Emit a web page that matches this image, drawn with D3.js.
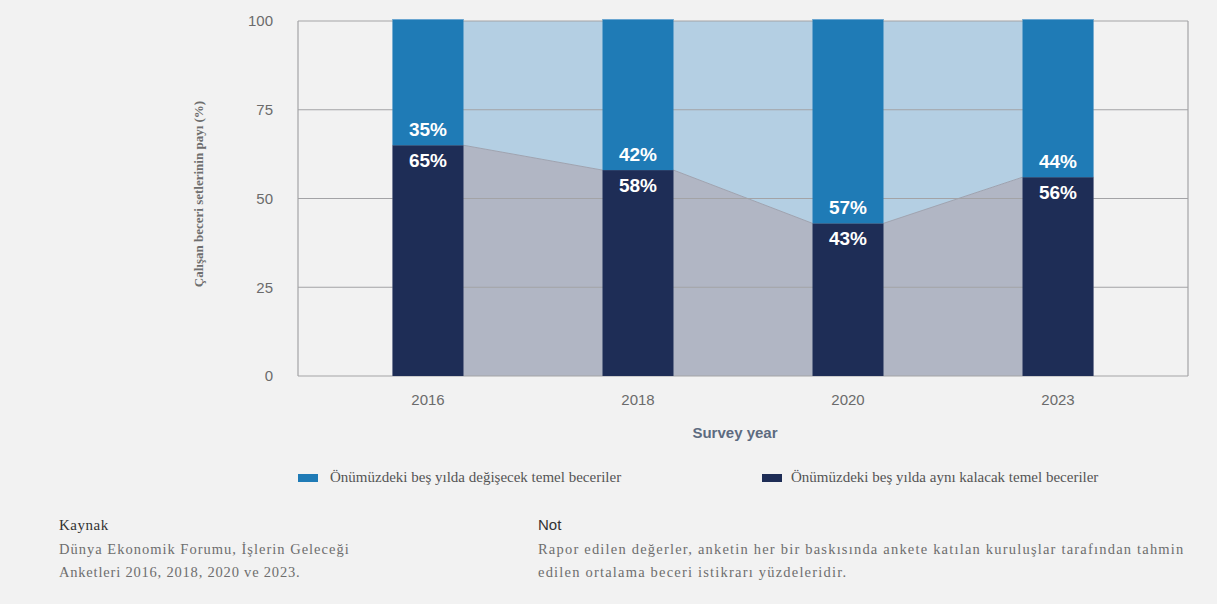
<!DOCTYPE html>
<html>
<head>
<meta charset="utf-8">
<script src="https://cdn.jsdelivr.net/npm/d3@7"></script>
<style>
  body { margin: 0; background: #f2f2f2; }
  svg { display: block; }
</style>
</head>
<body>
<div id="chart"></div>
<script>
const years = ["2016", "2018", "2020", "2023"];
const changing = [35, 42, 57, 44];
const stable = [65, 58, 43, 56];
const yTicks = [0, 25, 50, 75, 100];
const legendLabels = [
  "Önümüzdeki beş yılda değişecek temel beceriler",
  "Önümüzdeki beş yılda aynı kalacak temel beceriler"
];

const W = 1217, H = 604;
const plot = { left: 298, right: 1188, top: 21, bottom: 376 };
const colBlue = "#1f7bb6", colNavy = "#1e2d56", colSky = "#b4cfe3", colGrey = "#b1b6c4";
const sans = "Liberation Sans, Arial, sans-serif";
const serif = "Liberation Serif, serif";

const svg = d3.select("#chart").append("svg").attr("width", W).attr("height", H);
svg.append("rect").attr("width", W).attr("height", H).attr("fill", "#f2f2f2");

const x = d3.scaleBand().domain(years).range([plot.left, plot.right]).paddingInner(0.662).paddingOuter(0.45);
const y = d3.scaleLinear().domain([0, 100]).range([plot.bottom, plot.top]);

// points at bar edges for the connecting areas
const pts = [];
years.forEach((yr, i) => {
  pts.push({ x: x(yr), v: stable[i] });
  pts.push({ x: x(yr) + x.bandwidth(), v: stable[i] });
});

svg.append("path").datum(pts)
  .attr("fill", colSky)
  .attr("d", d3.area().x(d => d.x).y0(y(100)).y1(d => y(d.v)));
svg.append("path").datum(pts)
  .attr("fill", colGrey)
  .attr("d", d3.area().x(d => d.x).y0(y(0)).y1(d => y(d.v)));
svg.append("path").datum(pts)
  .attr("fill", "none").attr("stroke", "#9ea3b0").attr("stroke-width", 1)
  .attr("d", d3.line().x(d => d.x).y(d => y(d.v)));

// grid + frame
const grid = svg.append("g").attr("class", "grid");
grid.selectAll("line").data(yTicks).join("line")
  .attr("x1", plot.left).attr("x2", plot.right)
  .attr("y1", d => y(d)).attr("y2", d => y(d))
  .attr("stroke", "#a3a3a6").attr("stroke-width", 1.2);
grid.append("line").attr("x1", plot.left).attr("x2", plot.left).attr("y1", y(100)).attr("y2", y(0)).attr("stroke", "#a3a3a6").attr("stroke-width", 1.2);
grid.append("line").attr("x1", plot.right).attr("x2", plot.right).attr("y1", y(100)).attr("y2", y(0)).attr("stroke", "#a3a3a6").attr("stroke-width", 1.2);

// bars
const bars = svg.append("g").selectAll("g").data(years).join("g");
bars.append("rect")
  .attr("x", d => x(d)).attr("width", x.bandwidth())
  .attr("y", (d, i) => y(stable[i])).attr("height", (d, i) => y(0) - y(stable[i]))
  .attr("fill", colNavy);
bars.append("rect")
  .attr("x", d => x(d)).attr("width", x.bandwidth())
  .attr("y", y(100) - 2).attr("height", (d, i) => y(stable[i]) - y(100) + 2)
  .attr("fill", colBlue);
bars.append("rect")
  .attr("x", d => x(d)).attr("width", x.bandwidth())
  .attr("y", y(100) - 2).attr("height", 1)
  .attr("fill", "#6aa6d1");

bars.append("text")
  .attr("x", d => x(d) + x.bandwidth() / 2)
  .attr("y", (d, i) => y(stable[i]) - 16)
  .attr("dy", "0.35em")
  .attr("text-anchor", "middle")
  .attr("fill", "#fff").attr("font-family", sans)
  .attr("font-weight", "bold").attr("font-size", 19)
  .text((d, i) => changing[i] + "%");
bars.append("text")
  .attr("x", d => x(d) + x.bandwidth() / 2)
  .attr("y", (d, i) => y(stable[i]) + 15)
  .attr("dy", "0.35em")
  .attr("text-anchor", "middle")
  .attr("fill", "#fff").attr("font-family", sans)
  .attr("font-weight", "bold").attr("font-size", 19)
  .text((d, i) => stable[i] + "%");

// axes
const yAxis = svg.append("g").attr("transform", `translate(${plot.left - 25},0)`)
  .call(d3.axisLeft(y).tickValues(yTicks).tickSize(0).tickPadding(0));
yAxis.select(".domain").remove();
yAxis.selectAll("text").attr("font-family", sans).attr("font-size", 15).attr("fill", "#6b6b6b");

const xAxis = svg.append("g").attr("transform", `translate(0,${plot.bottom + 18})`)
  .call(d3.axisBottom(x).tickSize(0).tickPadding(0));
xAxis.select(".domain").remove();
xAxis.selectAll("text").attr("font-family", sans).attr("font-size", 15).attr("fill", "#6b6b6b");

svg.append("text")
  .attr("x", 735).attr("y", 438)
  .attr("text-anchor", "middle")
  .attr("font-family", sans).attr("font-weight", "bold").attr("font-size", 15)
  .attr("fill", "#5d6b80")
  .text("Survey year");

svg.append("text")
  .attr("transform", "translate(203,194) rotate(-90)")
  .attr("text-anchor", "middle")
  .attr("font-family", serif).attr("font-weight", "bold").attr("font-size", 13)
  .attr("fill", "#6e6e6e")
  .text("Çalışan beceri setlerinin payı (%)");

// legend
const legend = svg.append("g").selectAll("g").data(legendLabels).join("g")
  .attr("transform", (d, i) => `translate(${i === 0 ? 298 : 762},474)`);
legend.append("rect").attr("width", 20).attr("height", 8).attr("fill", (d, i) => i === 0 ? colBlue : colNavy);
legend.append("text").attr("x", (d, i) => i === 0 ? 32 : 29).attr("y", 8)
  .attr("font-family", serif).attr("font-size", 15).attr("fill", "#555")
  .text(d => d);

// footer
const foot = svg.append("g");
const note = (x0, y0, s, ls) => foot.append("text").attr("x", x0).attr("y", y0)
  .attr("font-family", serif).attr("font-size", 14.5).attr("fill", "#6e6e6e").attr("letter-spacing", ls).text(s);
foot.append("text").attr("x", 59).attr("y", 530).attr("font-family", serif).attr("font-size", 15).attr("fill", "#333").attr("letter-spacing", 0.5).text("Kaynak");
note(59, 554, "Dünya Ekonomik Forumu, İşlerin Geleceği", 1);
note(59, 577, "Anketleri 2016, 2018, 2020 ve 2023.", 0.8);
foot.append("text").attr("x", 538).attr("y", 530).attr("font-family", sans).attr("font-size", 15).attr("fill", "#333").text("Not");
note(538, 554, "Rapor edilen değerler, anketin her bir baskısında ankete katılan kuruluşlar tarafından tahmin", 1.2);
note(538, 577, "edilen ortalama beceri istikrarı yüzdeleridir.", 1.2);
</script>
</body>
</html>
